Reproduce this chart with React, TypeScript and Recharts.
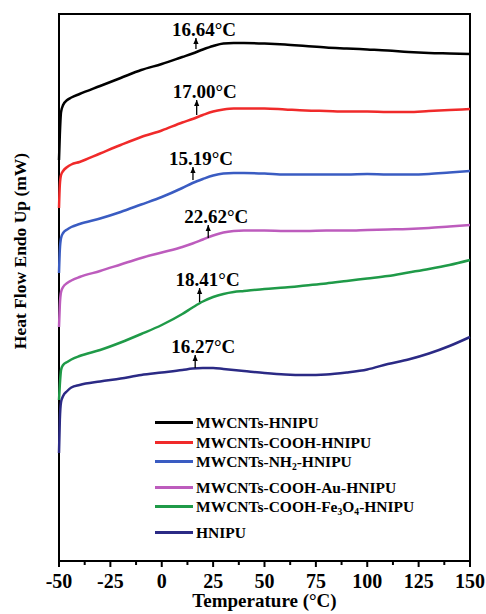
import React from 'react';
import {
  LineChart,
  Line,
  XAxis,
  YAxis,
  ReferenceArea,
  ReferenceLine,
  ReferenceDot,
} from 'recharts';

// Temperature grid (°C)
const temperature = [
  -50, -49.6, -49, -48, -46, -44, -40, -30, -20, -10, 0, 10, 15, 20, 25, 30, 35, 40,
  50, 60, 70, 80, 90, 100, 110, 120, 130, 140, 150,
];

// Heat flow (offset, arbitrary mW units)
const mwcntsHnipu = [
  40.1, 42.6, 44.9, 45.6, 46.1, 46.35, 46.7, 47.5, 48.3, 49.1, 49.7, 50.4, 50.75, 51.15,
  51.5, 51.75, 51.8, 51.8, 51.75, 51.65, 51.5, 51.35, 51.25, 51.15, 51.05, 50.9, 50.8,
  50.75, 50.7,
];
const mwcntsCoohHnipu = [
  35.3, 37.6, 38.6, 39.0, 39.4, 39.65, 39.9, 40.75, 41.6, 42.4, 43.05, 43.85, 44.2, 44.6,
  44.95, 45.15, 45.25, 45.25, 45.25, 45.15, 45.05, 45.0, 44.95, 44.95, 44.9, 44.9, 45.0,
  45.1, 45.2,
];
const mwcntsNh2Hnipu = [
  28.8, 31.1, 32.3, 32.8, 33.15, 33.4, 33.7, 34.25, 34.9, 35.65, 36.4, 37.3, 37.8, 38.2,
  38.55, 38.75, 38.8, 38.8, 38.75, 38.65, 38.65, 38.65, 38.65, 38.7, 38.65, 38.65, 38.7,
  38.85, 39.0,
];
const mwcntsCoohAuHnipu = [
  23.4, 25.6, 26.9, 27.4, 27.8, 28.05, 28.4, 29.0, 29.65, 30.3, 30.85, 31.4, 31.75, 32.15,
  32.55, 32.85, 33.0, 33.05, 33.05, 33.0, 33.0, 33.05, 33.05, 33.1, 33.15, 33.2, 33.3,
  33.45, 33.6,
];
const mwcntsCoohFe3o4Hnipu = [
  16.1, 17.6, 19.1, 19.6, 19.9, 20.15, 20.5, 21.1, 21.85, 22.7, 23.6, 24.7, 25.35, 25.95,
  26.4, 26.7, 26.9, 27.0, 27.2, 27.35, 27.55, 27.75, 28.0, 28.25, 28.5, 28.85, 29.2, 29.6,
  30.1,
];
const hnipu = [
  10.8, 14.1, 15.9, 16.5, 17.0, 17.35, 17.6, 17.95, 18.25, 18.6, 18.85, 19.1, 19.25, 19.3,
  19.3, 19.2, 19.1, 19.0, 18.8, 18.65, 18.6, 18.65, 18.85, 19.15, 19.7, 20.15, 20.75, 21.5,
  22.4,
];

const seriesValues = [
  mwcntsHnipu,
  mwcntsCoohHnipu,
  mwcntsNh2Hnipu,
  mwcntsCoohAuHnipu,
  mwcntsCoohFe3o4Hnipu,
  hnipu,
];
const seriesNames = [
  'MWCNTs-HNIPU',
  'MWCNTs-COOH-HNIPU',
  'MWCNTs-NH_2-HNIPU',
  'MWCNTs-COOH-Au-HNIPU',
  'MWCNTs-COOH-Fe_3O_4-HNIPU',
  'HNIPU',
];
const seriesColors = ['#000000', '#f02a2a', '#3a5cc2', '#bd5cbd', '#1f9a48', '#2b2a85'];

// Glass transition annotations
const glassTemps = [16.64, 17.0, 15.19, 22.62, 18.41, 16.27];
const glassLabels = ['16.64°C', '17.00°C', '15.19°C', '22.62°C', '18.41°C', '16.27°C'];
const arrowBase = [51.2, 44.6, 38.1, 32.3, 25.9, 19.3];
const arrowTip = [52.3, 46.1, 39.4, 33.6, 27.3, 20.6];

const majorTicks = [-50, -25, 0, 25, 50, 75, 100, 125, 150];
const minorTicks = [-37.5, -12.5, 12.5, 37.5, 62.5, 87.5, 112.5, 137.5];
const allTicks = [...majorTicks, ...minorTicks].sort((a, b) => a - b);

const yDomain = [0, 54.7];

const FONT = "'Liberation Serif', 'Times New Roman', serif";

const data = temperature.map((t, i) => {
  const row: Record<string, number> = { t };
  seriesValues.forEach((s, k) => {
    row['s' + k] = s[i];
  });
  return row;
});

function AxisTick(props: any) {
  const { x, y, payload } = props;
  const major = majorTicks.includes(payload.value);
  return (
    <g>
      <line x1={x} x2={x} y1={y} y2={y + (major ? 6 : 4)} stroke="#000" strokeWidth={2} />
      {major && (
        <text
          x={x}
          y={y + 27}
          textAnchor="middle"
          fontFamily={FONT}
          fontWeight="bold"
          fontSize={20}
          fill="#000"
        >
          {payload.value}
        </text>
      )}
    </g>
  );
}

function renderName(name: string) {
  const parts = name.split(/_(\d)/);
  return parts.map((p, i) =>
    i % 2 === 1 ? (
      <sub key={i} style={{ fontSize: '0.62em', lineHeight: 0, verticalAlign: '-0.3em' }}>
        {p}
      </sub>
    ) : (
      <React.Fragment key={i}>{p}</React.Fragment>
    )
  );
}

const makeArrowHead = (label: string) => (props: any) => {
  const { cx, cy } = props;
  return (
    <g>
      <path d={`M${cx - 2.6},${cy + 6} L${cx},${cy} L${cx + 2.6},${cy + 6} Z`} fill="#000" />
      <text
        x={cx + 8}
        y={cy - 2}
        textAnchor="middle"
        fontFamily={FONT}
        fontWeight="bold"
        fontSize={19}
        fill="#000"
      >
        {label}
      </text>
    </g>
  );
};

export default function App() {
  return (
    <div style={{ position: 'absolute', left: 0, top: 0, width: 486, height: 614, background: '#fff' }}>
      <LineChart
        width={486}
        height={614}
        data={data}
        margin={{ top: 14, right: 16, bottom: 7, left: 0 }}
      >
        <ReferenceArea
          x1={-50}
          x2={150}
          y1={yDomain[0]}
          y2={yDomain[1]}
          fill="none"
          stroke="#000"
          strokeWidth={2}
          ifOverflow="visible"
        />
        <XAxis
          dataKey="t"
          type="number"
          domain={[-50, 150]}
          ticks={allTicks}
          interval={0}
          tickSize={0}
          tickMargin={0}
          tickLine={false}
          axisLine={{ stroke: '#000', strokeWidth: 2 }}
          height={46}
          tick={<AxisTick />}
          label={{
            content: (p: any) => {
              const vb = p.viewBox || {};
              return (
                <text
                  x={vb.x + vb.width / 2}
                  y={vb.y + 46}
                  textAnchor="middle"
                  fontFamily={FONT}
                  fontWeight="bold"
                  fontSize={19}
                  fill="#000"
                >
                  Temperature (°C)
                </text>
              );
            },
          }}
        />
        <YAxis
          type="number"
          domain={yDomain}
          width={59}
          tick={false}
          tickLine={false}
          axisLine={false}
          label={{
            content: () => (
              <text
                x={26}
                y={251}
                transform="rotate(-90, 26, 251)"
                textAnchor="middle"
                fontFamily={FONT}
                fontWeight="bold"
                fontSize={17.5}
                fill="#000"
              >
                Heat Flow Endo Up (mW)
              </text>
            ),
          }}
        />
        {seriesNames.map((n, k) => (
          <Line
            key={n}
            dataKey={'s' + k}
            name={n}
            type="monotone"
            stroke={seriesColors[k]}
            strokeWidth={2.5}
            dot={false}
            activeDot={false}
            isAnimationActive={false}
          />
        )).reverse()}
        {glassTemps.map((t, k) => (
          <ReferenceLine
            key={'seg' + k}
            segment={[
              { x: t, y: arrowBase[k] },
              { x: t, y: arrowTip[k] },
            ]}
            stroke="#000"
            strokeWidth={1.3}
            ifOverflow="visible"
          />
        ))}
        {glassTemps.map((t, k) => (
          <ReferenceDot
            key={'dot' + k}
            x={t}
            y={arrowTip[k]}
            r={3}
            ifOverflow="visible"
            shape={makeArrowHead(glassLabels[k])}
          />
        ))}
      </LineChart>
      <div
        style={{
          position: 'absolute',
          left: 155,
          top: 413,
          fontFamily: FONT,
          fontWeight: 'bold',
          fontSize: 15.5,
          color: '#000',
        }}
      >
        {seriesNames.map((n, k) => (
          <div
            key={n}
            style={{
              display: 'flex',
              alignItems: 'center',
              height: 19.5,
              marginBottom: n.includes('_') ? 6 : 0,
            }}
          >
            <span
              style={{
                display: 'inline-block',
                width: 38,
                height: 3,
                background: seriesColors[k],
                marginRight: 3,
              }}
            />
            <span style={{ lineHeight: '19.5px', whiteSpace: 'nowrap' }}>{renderName(n)}</span>
          </div>
        ))}
      </div>
    </div>
  );
}
